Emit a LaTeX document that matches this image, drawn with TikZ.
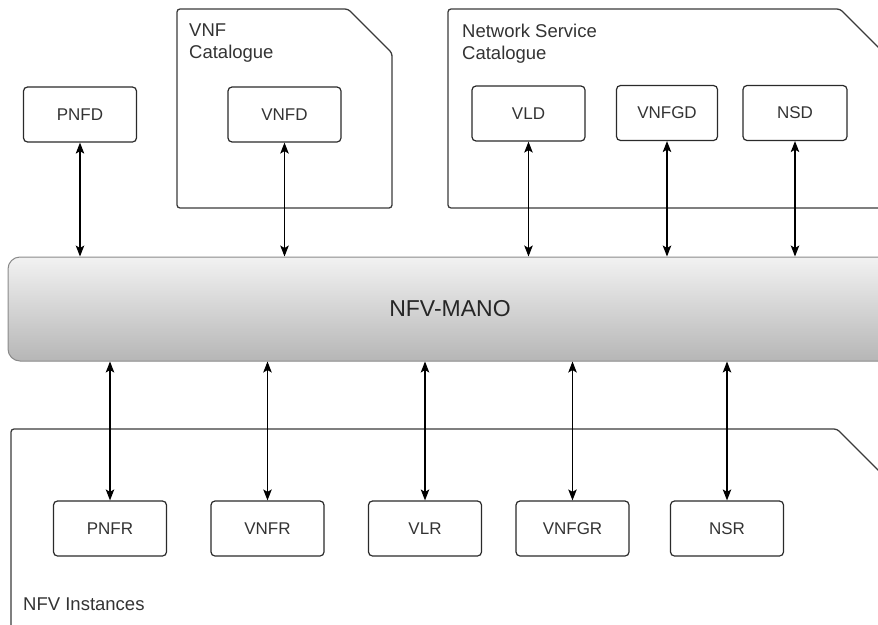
\documentclass[tikz,border=0pt]{standalone}
\usepackage{fontspec}
\setmainfont{Liberation Sans}
\usetikzlibrary{arrows.meta}
\definecolor{txt}{HTML}{333333}
\definecolor{edge}{HTML}{2A2A2A}
\definecolor{cont}{HTML}{3A3A3A}
\definecolor{manoedge}{HTML}{8A8A8A}
\definecolor{manotop}{HTML}{F2F2F2}
\definecolor{manobot}{HTML}{B6B6B6}
\tikzset{
  elem/.style={draw=edge, line width=1.2pt, rounded corners=4pt, minimum width=113pt, minimum height=55pt, inner sep=0pt, text=txt, font=\fontsize{17}{20}\selectfont},
  container/.style={draw=cont, line width=1.3pt, rounded corners=3pt},
  clabel/.style={anchor=base west, inner sep=0pt, text=txt, font=\fontsize{18.5}{22}\selectfont},
  manobox/.style={draw=manoedge, line width=1pt, rounded corners=12pt, top color=manotop, bottom color=manobot, minimum width=884pt, minimum height=104pt, inner sep=0pt, text=black!85, font=\fontsize{23}{26}\selectfont},
  link/.style={line width=1.1pt, black, {Stealth[length=11pt,width=8.5pt,inset=2.5pt]}-{Stealth[length=11pt,width=8.5pt,inset=2.5pt]}}
}
\begin{document}
\begin{tikzpicture}[x=1pt,y=-1pt]
\useasboundingbox (0,0) rectangle (878,624);
\clip (0,0) rectangle (878,624);
% containers
\draw[container] (177,208) -- (177,9) -- (348,9) -- (392,53) -- (392,208) -- cycle;
\draw[container] (448,208) -- (448,9) -- (840,9) -- (884,53) -- (884,208) -- cycle;
\draw[container] (11,660) -- (11,429) -- (837,429) -- (882,474) -- (882,660);
\node[clabel] (vnfcat1) at (189,36) {VNF};
\node[clabel] (vnfcat2) at (189,58) {Catalogue};
\node[clabel] (nscat1) at (462,37) {Network Service};
\node[clabel] (nscat2) at (462,59) {Catalogue};
\node[clabel] (nfvi) at (23,610) {NFV Instances};
% MANO
\node[manobox] (mano) at (450,309) {NFV-MANO};
% top elements
\node[elem] (pnfd) at (80,114.5) {PNFD};
\node[elem] (vnfd) at (284.5,114.5) {VNFD};
\node[elem] (vld) at (528.5,113.5) {VLD};
\node[elem, minimum width=101pt] (vnfgd) at (667,113) {VNFGD};
\node[elem, minimum width=104pt] (nsd) at (795,113) {NSD};
% bottom elements
\node[elem] (pnfr) at (110,528.5) {PNFR};
\node[elem] (vnfr) at (267.5,528.5) {VNFR};
\node[elem] (vlr) at (425,528.5) {VLR};
\node[elem] (vnfgr) at (572.5,528.5) {VNFGR};
\node[elem] (nsr) at (727,528.5) {NSR};
% connectors
\draw[link] (pnfd.south) -- (pnfd.south |- mano.north);
\draw[link] (vnfd.south) -- (vnfd.south |- mano.north);
\draw[link] (vld.south) -- (vld.south |- mano.north);
\draw[link] (vnfgd.south) -- (vnfgd.south |- mano.north);
\draw[link] (nsd.south) -- (nsd.south |- mano.north);
\draw[link] (pnfr.north) -- (pnfr.north |- mano.south);
\draw[link] (vnfr.north) -- (vnfr.north |- mano.south);
\draw[link] (vlr.north) -- (vlr.north |- mano.south);
\draw[link] (vnfgr.north) -- (vnfgr.north |- mano.south);
\draw[link] (nsr.north) -- (nsr.north |- mano.south);
\end{tikzpicture}
\end{document}
